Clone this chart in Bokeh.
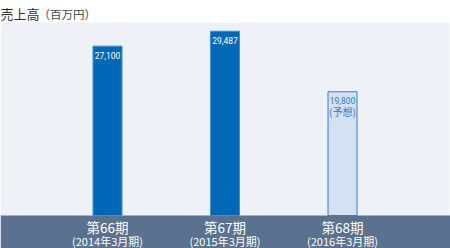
from bokeh.plotting import figure
from bokeh.models import ColumnDataSource, BoxAnnotation, Label, Range1d
from bokeh.core.properties import value
from bokeh.embed import file_html
from bokeh.resources import INLINE

periods = ["第66期", "第67期", "第68期"]
fiscal = ["(2014年3月期)", "(2015年3月期)", "(2016年3月期)"]
sales = [27100, 29487, 19800]
value_labels = ["27,100", "29,487", "19,800"]
forecast = [False, False, True]

xs = [1, 2, 3]
fills = ["#d3e1f2" if f else "#0068b7" for f in forecast]
lines = ["#2f80cc" if f else "#3d8fd6" for f in forecast]
label_colors = ["#2f7fc8" if f else "#ffffff" for f in forecast]

src = ColumnDataSource(dict(x=xs, top=sales, fill=fills, line=lines,
                            lab=value_labels, lc=label_colors,
                            period=periods, fiscal=fiscal))

W, H = 450, 248
px_per_unit = 117.5
x0 = 1 - 107 / px_per_unit
units_per_px = 160.0
base_from_bottom = 33
y0 = -base_from_bottom * units_per_px
y1 = (H - base_from_bottom) * units_per_px

p = figure(width=W, height=H, output_backend="svg", toolbar_location=None,
           x_range=Range1d(x0, x0 + W / px_per_unit), y_range=Range1d(y0, y1),
           min_border=0, border_fill_color="white", background_fill_color="white",
           outline_line_color=None)
p.axis.visible = False
p.grid.visible = False

panel_top = (H - base_from_bottom - 22) * units_per_px
p.add_layout(BoxAnnotation(bottom=0, top=panel_top, right=x0 + 449 / px_per_unit,
                           fill_color="#eef2f7", fill_alpha=1, line_color=None, level="underlay"))
p.add_layout(BoxAnnotation(top=0, fill_color="#5b7190", fill_alpha=1, line_color=None, level="underlay"))

p.vbar(x="x", top="top", bottom=0, width=29 / px_per_unit, source=src,
       fill_color="fill", line_color="line", line_width=1)

num_font = value("Roboto")
p.text(x="x", y="top", text="lab", source=src, text_color="lc",
       text_font=num_font, text_font_size="8.5px", text_align="center",
       text_baseline="middle", y_offset=9)
p.text(x=[xs[2]], y=[sales[2]], text=["(予想)"], text_color="#2f7fc8",
       text_font=value("Noto Sans CJK JP"), text_font_size="10px", text_align="center",
       text_baseline="middle", y_offset=20)

p.text(x="x", y=0, text="period", source=src, text_color="white",
       text_font=value("Noto Sans CJK JP"), text_font_size="13.5px", text_align="center",
       text_baseline="middle", y_offset=11)
p.text(x="x", y=0, text="fiscal", source=src, text_color="white",
       text_font=value("Noto Sans CJK JP"), text_font_size="11px", text_align="center",
       text_baseline="middle", y_offset=25)

p.add_layout(Label(x=0, y=H - 13, x_units="screen", y_units="screen", text="売上高",
                   text_font="Noto Sans CJK JP", text_font_size="13px", text_color="#333333",
                   text_baseline="alphabetic"))
p.add_layout(Label(x=38, y=H - 13, x_units="screen", y_units="screen", text="（百万円）",
                   text_font="Noto Sans CJK JP", text_font_size="11.5px", text_color="#444444",
                   text_baseline="alphabetic"))

open("out.html", "w").write(file_html(p, INLINE))
